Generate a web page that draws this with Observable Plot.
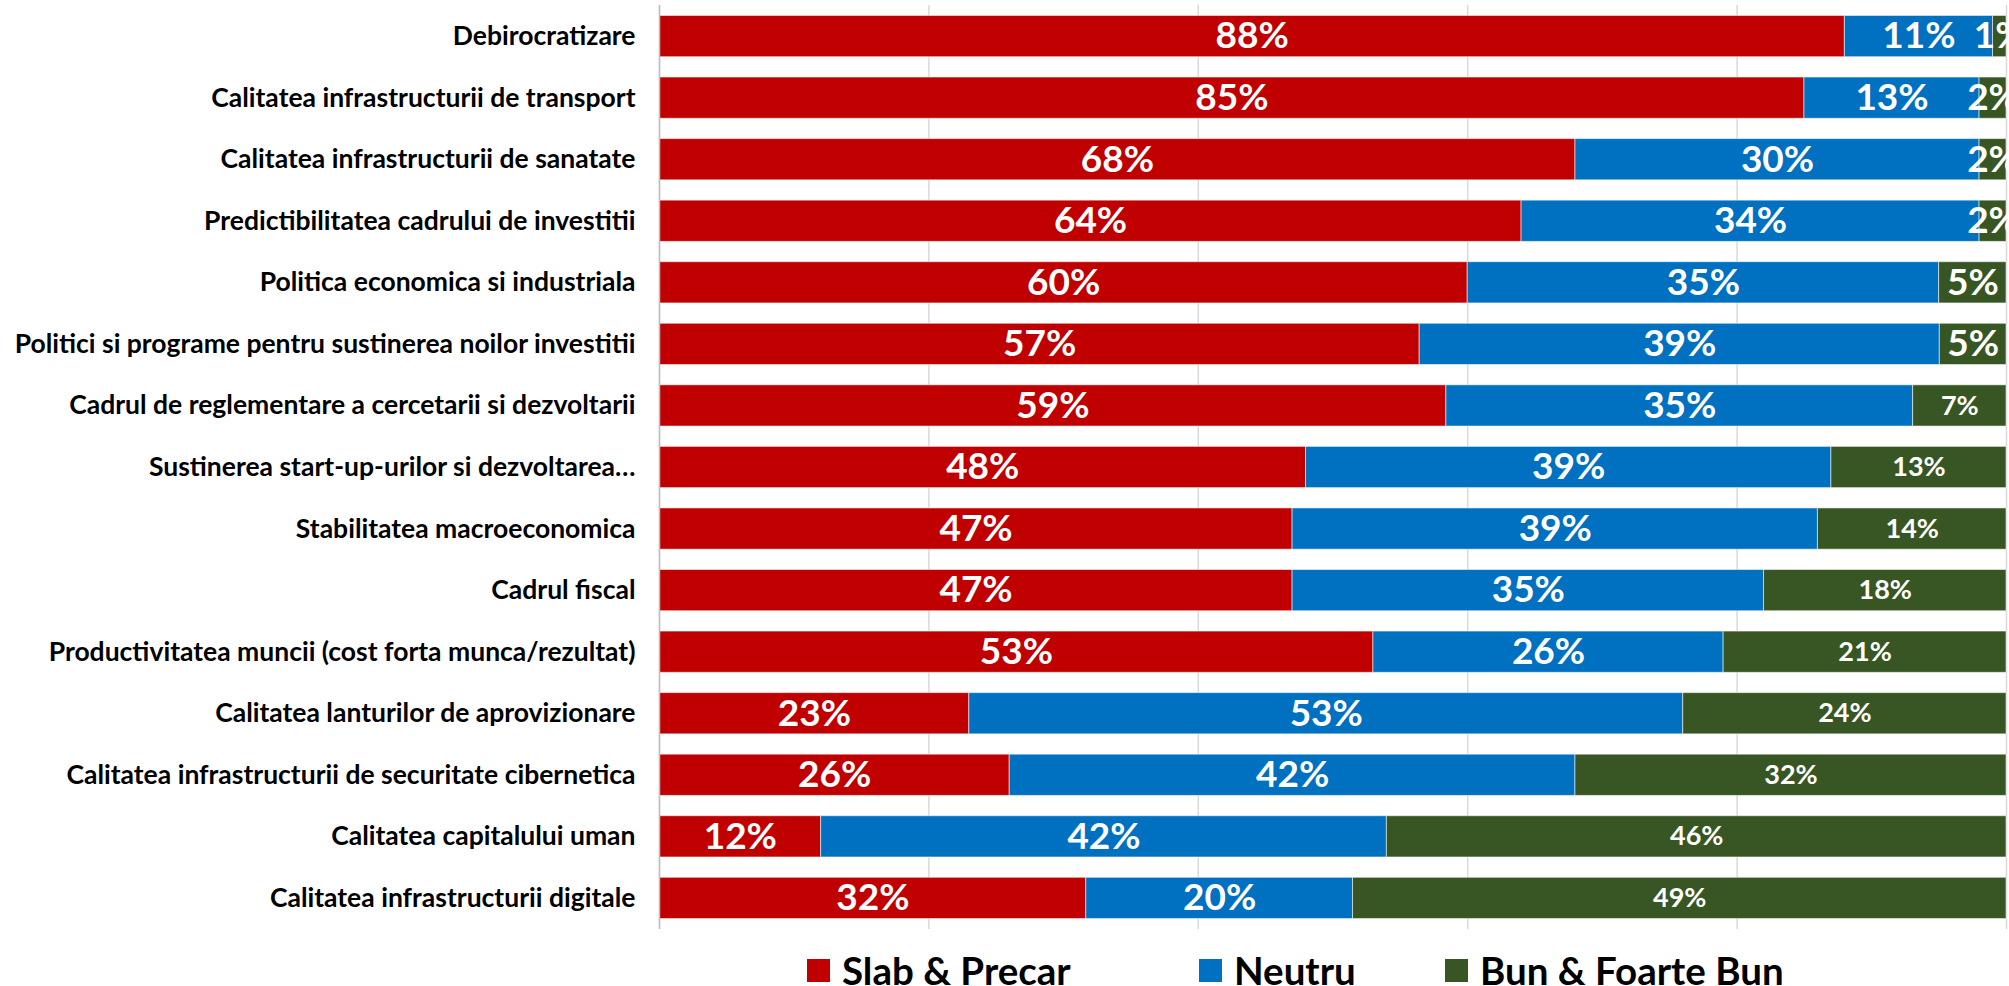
<!DOCTYPE html>
<html>
<head>
<meta charset="utf-8">
<script src="https://cdn.jsdelivr.net/npm/d3@7"></script>
<script src="https://cdn.jsdelivr.net/npm/@observablehq/plot@0.6"></script>
<style>
  html, body { margin: 0; padding: 0; background: #fff; }
  #wrap { position: relative; width: 2009px; height: 986px; overflow: hidden; font-family: Lato, "Open Sans", sans-serif; }
  .legend { position: absolute; top: 947px; left: 0; width: 2009px; height: 44px; }
  .item { position: absolute; top: 0; display: flex; align-items: center; font-weight: 700; font-size: 38.5px; color: #000; white-space: nowrap; }
  .sw { width: 23px; height: 23px; margin-right: 12px; }
</style>
</head>
<body>
<div id="wrap"></div>
<script>
const categories = [
  "Debirocratizare",
  "Calitatea infrastructurii de transport",
  "Calitatea infrastructurii de sanatate",
  "Predictibilitatea cadrului de investitii",
  "Politica economica si industriala",
  "Politici si programe pentru sustinerea noilor investitii",
  "Cadrul de reglementare a cercetarii si dezvoltarii",
  "Sustinerea start-up-urilor si dezvoltarea…",
  "Stabilitatea macroeconomica",
  "Cadrul fiscal",
  "Productivitatea muncii (cost forta munca/rezultat)",
  "Calitatea lanturilor de aprovizionare",
  "Calitatea infrastructurii de securitate cibernetica",
  "Calitatea capitalului uman",
  "Calitatea infrastructurii digitale"
];
const seriesNames = ["Slab & Precar", "Neutru", "Bun & Foarte Bun"];
const seriesColors = ["#C00000", "#0070C0", "#375623"];
const slab   = [88, 85, 68, 64, 60, 57, 59, 48, 47, 47, 53, 23, 26, 12, 32];
const neutru = [11, 13, 30, 34, 35, 39, 35, 39, 39, 35, 26, 53, 42, 42, 20];
const bun    = [1, 2, 2, 2, 5, 5, 7, 13, 14, 18, 21, 24, 32, 46, 49];
const gridTicks = [0, 0.2, 0.4, 0.6, 0.8, 1];

const seriesValues = [slab, neutru, bun];
const data = [];
categories.forEach((c, i) => {
  seriesNames.forEach((s, j) => {
    data.push({category: c, series: s, value: seriesValues[j][i]});
  });
});

const stackOpts = {x: "value", y: "category", z: "series", order: seriesNames, offset: "normalize"};
const labelSize = d => (d.series !== "Bun & Foarte Bun" || d.value <= 5) ? 37 : 27;

const chart = Plot.plot({
  width: 2009,
  height: 940,
  marginTop: 5,
  marginBottom: 11,
  marginLeft: 659,
  marginRight: 3,
  style: {fontFamily: "Lato, 'Open Sans', sans-serif", background: "white", overflow: "visible"},
  x: {domain: [0, 1], axis: null},
  y: {domain: categories, paddingInner: 0.33, paddingOuter: 0.17, round: false, label: null},
  color: {domain: seriesNames, range: seriesColors},
  marks: [
    Plot.ruleX(gridTicks, {stroke: "#D9D9D9", strokeWidth: 1.5}),
    Plot.barX(data, Plot.stackX({...stackOpts, fill: "series", stroke: "#ffffff", strokeOpacity: 0.55, strokeWidth: 1})),
    Plot.text(data, Plot.stackX({...stackOpts, text: d => d.value + "%", fill: "white", fontWeight: 700, fontSize: labelSize})),
    Plot.ruleX([0], {stroke: "#BFBFBF", strokeWidth: 1.5}),
    Plot.axisY({tickSize: 0, tickPadding: 24, fontSize: 26.5, fontWeight: 700, label: null, fill: "#000", textOverflow: null})
  ]
});
chart.querySelectorAll('g[aria-label="y-axis tick label"] text').forEach(t => t.setAttribute("font-weight", "700"));
document.getElementById("wrap").appendChild(chart);

const legend = document.createElement("div");
legend.className = "legend";
const lefts = [807, 1199, 1445];
seriesNames.forEach((s, i) => {
  const it = document.createElement("div");
  it.className = "item";
  it.style.left = lefts[i] + "px";
  const sw = document.createElement("div");
  sw.className = "sw";
  sw.style.background = seriesColors[i];
  const tx = document.createElement("span");
  tx.textContent = s;
  it.appendChild(sw);
  it.appendChild(tx);
  legend.appendChild(it);
});
document.getElementById("wrap").appendChild(legend);
</script>
</body>
</html>
